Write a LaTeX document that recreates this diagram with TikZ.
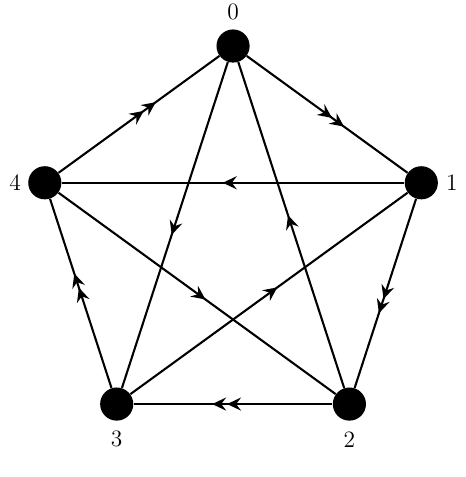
\documentclass[tikz,border=0pt]{standalone}
\usepackage{amsmath,amssymb}
\usepackage{tikz}
\usetikzlibrary{decorations.markings,arrows.meta,calc}
\tikzset{
	vert/.style={circle, fill=black, inner sep=0pt, minimum size=0.67cm},
	vlab/.style={font=\fontsize{13.5}{15}\selectfont, inner sep=0pt},
	edge/.style={line width=1.2pt},
	tip/.tip={Stealth[length=8pt, width=7.5pt, inset=2.8pt]},
	one/.style={edge, postaction={decorate}, decoration={markings, mark=at position 0.53 with {\arrow{tip}}}},
	two/.style={edge, postaction={decorate}, decoration={markings, mark=at position 0.53 with {\arrow{tip}}, mark=at position 0.605 with {\arrow{tip}}}}
}
\begin{document}
\begin{tikzpicture}
			\useasboundingbox (-4.71,-4.71) rectangle (4.69,4.93);
			\node[vert] (v0) at (90:4) {};
			\node[vert] (v1) at (18:4) {};
			\node[vert] (v2) at (-54:4) {};
			\node[vert] (v3) at (-126:4) {};
			\node[vert] (v4) at (162:4) {};
			\node[vlab] (l0) at ($(v0)+(0,0.69)$) {0};
			\node[vlab] (l1) at ($(v1)+(0.62,0)$) {1};
			\node[vlab] (l2) at ($(v2)+(0,-0.71)$) {2};
			\node[vlab] (l3) at ($(v3)+(0,-0.71)$) {3};
			\node[vlab] (l4) at ($(v4)+(-0.6,0)$) {4};
			\draw[two] (v0) -- (v1);
			\draw[two] (v1) -- (v2);
			\draw[two] (v2) -- (v3);
			\draw[two] (v3) -- (v4);
			\draw[two] (v4) -- (v0);
			\draw[one] (v1) -- (v4);
			\draw[one] (v0) -- (v3);
			\draw[one] (v2) -- (v0);
			\draw[one] (v4) -- (v2);
			\draw[one] (v3) -- (v1);
	\end{tikzpicture}
\end{document}
